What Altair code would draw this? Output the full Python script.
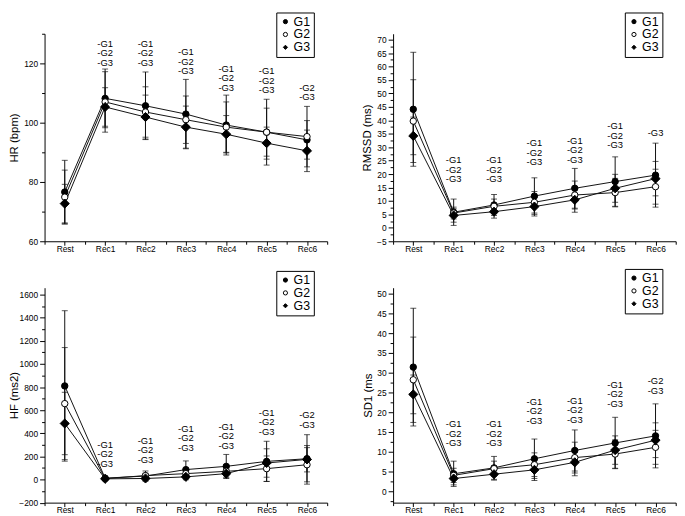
import altair as alt
import pandas as pd

FONT = "Liberation Sans"

categories = ["Rest", "Rec1", "Rec2", "Rec3", "Rec4", "Rec5", "Rec6"]
groups = ["G1", "G2", "G3"]

# HR (bpm)
hr_g1 = [76.6, 108.2, 105.7, 102.9, 99.2, 96.8, 94.2]
hr_g2 = [74.9, 107.0, 103.6, 101.0, 98.5, 96.8, 95.3]
hr_g3 = [72.7, 105.3, 101.9, 98.5, 96.1, 93.1, 90.5]
hr_sd_g1 = [10.7, 9.9, 11.4, 11.7, 10.1, 11.1, 6.5]
hr_sd_g2 = [9.1, 10.2, 8.5, 8.0, 8.5, 8.1, 10.2]
hr_sd_g3 = [6.5, 6.5, 7.4, 7.1, 6.3, 5.4, 7.0]

# RMSSD (ms)
rm_g1 = [44.1, 5.8, 8.5, 11.8, 14.7, 17.2, 19.6]
rm_g2 = [39.7, 5.5, 8.0, 9.5, 12.2, 13.1, 15.3]
rm_g3 = [34.2, 4.6, 6.0, 7.9, 10.4, 14.7, 18.3]
rm_sd_g1 = [21.2, 4.9, 3.9, 6.8, 7.4, 9.2, 11.9]
rm_sd_g2 = [15.4, 2.2, 2.7, 4.0, 5.2, 5.3, 6.5]
rm_sd_g3 = [7.0, 2.5, 2.4, 3.5, 4.6, 5.2, 6.4]

# HF (ms2)
hf_g1 = [810, 12, 30, 86, 114, 157, 180]
hf_g2 = [657, 8, 34, 51, 71, 94, 128]
hf_g3 = [485, 6, 9, 23, 51, 143, 174]
hf_sd_g1 = [651, 10, 44, 75, 103, 174, 114]
hf_sd_g2 = [485, 6, 20, 40, 50, 110, 148]
hf_sd_g3 = [270, 5, 15, 25, 40, 123, 214]

# SD1 (ms)
sd_g1 = [31.4, 4.4, 5.9, 8.2, 10.3, 12.2, 14.0]
sd_g2 = [28.2, 4.0, 5.7, 6.7, 8.5, 9.4, 11.1]
sd_g3 = [24.5, 3.2, 4.3, 5.4, 7.3, 10.4, 12.9]
sd_sd_g1 = [14.9, 3.2, 2.9, 5.0, 5.2, 6.5, 8.1]
sd_sd_g2 = [10.8, 1.8, 1.9, 3.0, 3.9, 3.6, 4.3]
sd_sd_g3 = [4.9, 1.6, 1.5, 2.7, 3.4, 3.6, 4.4]

# significance notes (y = value at the first line of each note)
N3 = "-G1\n-G2\n-G3"
hr_notes = ["", N3, N3, N3, N3, N3, "-G2\n-G3"]
hr_note_y = [0, 126.6, 126.6, 123.7, 118.2, 117.3, 111.7]
rm_notes = ["", N3, N3, N3, N3, N3, "-G3"]
rm_note_y = [0, 25.2, 25.2, 31.5, 32.4, 37.7, 35.2]
hf_notes = ["", N3, N3, N3, N3, N3, "-G2\n-G3"]
hf_note_y = [0, 300, 337, 437, 457, 579, 556]
sd_notes = ["", N3, N3, N3, N3, N3, "-G2\n-G3"]
sd_note_y = [0, 16.9, 16.9, 22.6, 22.9, 26.9, 27.8]

W = 286
label_list = "[" + ",".join("'" + c + "'" for c in categories) + "]"


def make_panel(means, sds, notes, note_y, title, ydom, ystep, ymajor, height,
               title_x, legend_y):
    rows = []
    for g, m, s in zip(groups, means, sds):
        for i, (mv, sv) in enumerate(zip(m, s)):
            rows.append({"idx": i, "group": g, "mean": mv,
                         "lo": mv - sv, "hi": mv + sv})
    df = pd.DataFrame(rows)
    caps = df.melt(id_vars=["idx", "group"], value_vars=["lo", "hi"],
                   value_name="cap")
    nd = pd.DataFrame({"idx": list(range(len(categories))), "note": notes,
                       "ny": note_y})
    nd = nd[nd["note"] != ""]

    xscale = alt.Scale(domain=[-0.5, 6.5], nice=False, zero=False)
    yscale = alt.Scale(domain=ydom, nice=False, zero=False)

    n = int(round((ydom[1] - ydom[0]) / ystep)) + 2
    start = ystep * int(-(-ydom[0] // ystep))
    allv = [start + k * ystep for k in range(n)]
    allv = [v for v in allv if v <= ydom[1] + 1e-9]
    majors = [v for v in allv if abs(v % ymajor) < 1e-6]
    minors = [v for v in allv if abs(v % ymajor) >= 1e-6]

    xaxis = alt.Axis(
        values=list(range(len(categories))),
        labelExpr=label_list + "[datum.value]",
        tickSize=4, labelPadding=-1, labelOverlap=False, orient="bottom",
    )
    yaxis = alt.Axis(
        values=majors, format="d", labelOverlap=False, tickSize=5,
        titleX=title_x, titleBaseline="middle", titlePadding=0,
        orient="left",
    )

    lines = alt.Chart(df).mark_line(color="#111", strokeWidth=1).encode(
        x=alt.X("idx:Q", scale=xscale, axis=xaxis, title=None),
        y=alt.Y("mean:Q", scale=yscale, axis=yaxis, title=title),
        detail="group:N")
    # minor ticks: a second pair of axes on the same scales, no labels
    minor = alt.Chart(df).mark_point(opacity=0).encode(
        x=alt.X("idx:Q", scale=xscale, title=None, axis=alt.Axis(
            values=[i + 0.5 for i in range(-1, len(categories))],
            labels=False, tickSize=3, domain=False, orient="bottom")),
        y=alt.Y("mean:Q", scale=yscale, title=None, axis=alt.Axis(
            values=minors, labels=False, tickSize=3, domain=False,
            orient="left")),
    )
    xn = alt.X("idx:Q", scale=xscale, axis=None)
    rules = alt.Chart(df).mark_rule(color="#111", strokeWidth=1).encode(
        x=xn, y=alt.Y("lo:Q", scale=yscale, axis=None), y2="hi:Q")
    ticks = alt.Chart(caps).mark_tick(orient="horizontal", size=6,
                                      thickness=1, color="#111").encode(
        x=xn, y=alt.Y("cap:Q", scale=yscale, axis=None))
    leg = alt.Legend(orient="none", legendX=234.5, legendY=legend_y,
                     title=None, strokeColor="black", fillColor="white",
                     padding=3, labelFontSize=12.5, labelFont=FONT,
                     labelColor="black", symbolSize=18,
                     symbolStrokeWidth=1, rowPadding=0, labelOffset=2)
    pts = alt.Chart(df).mark_point(stroke="black", strokeWidth=1,
                                   opacity=1, fillOpacity=1).encode(
        x=xn, y=alt.Y("mean:Q", scale=yscale, axis=None),
        shape=alt.Shape("group:N", scale=alt.Scale(
            domain=groups, range=["circle", "circle", "diamond"]), legend=leg),
        fill=alt.Fill("group:N", scale=alt.Scale(
            domain=groups, range=["black", "white", "black"]), legend=leg),
        stroke=alt.Stroke("group:N", scale=alt.Scale(
            domain=groups, range=["black", "black", "black"]), legend=leg),
        size=alt.condition("datum.group == 'G3'", alt.value(85),
                           alt.value(42)),
    )
    txt = alt.Chart(nd).mark_text(font=FONT, fontSize=9.5, lineHeight=9.6,
                                  align="center", baseline="middle",
                                  lineBreak="\n", color="black").encode(
        x=xn, y=alt.Y("ny:Q", scale=yscale, axis=None), text="note:N")
    return alt.layer(lines, minor, rules, ticks, pts, txt).resolve_axis(
        x="independent", y="independent").properties(width=W, height=height)


p1 = make_panel([hr_g1, hr_g2, hr_g3], [hr_sd_g1, hr_sd_g2, hr_sd_g3],
                hr_notes, hr_note_y, "HR (bpm)", [60, 130], 10, 20, 210,
                -30, -21.5)
p2 = make_panel([rm_g1, rm_g2, rm_g3], [rm_sd_g1, rm_sd_g2, rm_sd_g3],
                rm_notes, rm_note_y, "RMSSD (ms)", [-5, 72.2], 2.5, 5, 210,
                -26, -21.5)
p3 = make_panel([hf_g1, hf_g2, hf_g3], [hf_sd_g1, hf_sd_g2, hf_sd_g3],
                hf_notes, hf_note_y, "HF (ms2)", [-200, 1660], 100, 200, 217.5,
                -30, -17)
p4 = make_panel([sd_g1, sd_g2, sd_g3], [sd_sd_g1, sd_sd_g2, sd_sd_g3],
                sd_notes, sd_note_y, "SD1 (ms", [-2.9, 51.5], 2.5, 5, 217.5,
                -25, -19)

chart = alt.concat(p1, p2, p3, p4, columns=2,
                   spacing={"row": 47, "column": 66.7},
                   bounds="flush").resolve_scale(
    shape="independent", fill="independent", stroke="independent",
    x="independent", y="independent",
).resolve_legend(
    shape="independent", fill="independent", stroke="independent",
).properties(padding=0).configure_axis(
    domainColor="black", tickColor="black", labelColor="black",
    titleColor="black", labelFont=FONT, titleFont=FONT, labelFontSize=8.5,
    titleFontSize=11.5, titleFontWeight="normal", grid=False, domainWidth=1,
    tickWidth=1, labelOverlap=False,
).configure_view(stroke="transparent")

chart.save("out.html", embed_options={"renderer": "svg", "actions": False})
